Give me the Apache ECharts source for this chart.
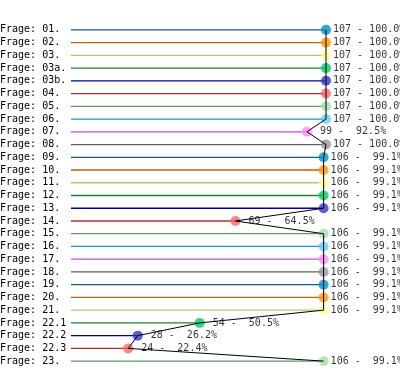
<!DOCTYPE html>
<html><head><meta charset="utf-8">
<script src="https://cdn.jsdelivr.net/npm/echarts@6/dist/echarts.min.js"></script>
<style>html,body{margin:0;padding:0;background:#fff}#c{width:400px;height:373px}</style>
</head><body><div id="c"></div>
<script>
var categories = ["Frage: 01.","Frage: 02.","Frage: 03.","Frage: 03a.","Frage: 03b.","Frage: 04.","Frage: 05.","Frage: 06.","Frage: 07.","Frage: 08.","Frage: 09.","Frage: 10.","Frage: 11.","Frage: 12.","Frage: 13.","Frage: 14.","Frage: 15.","Frage: 16.","Frage: 17.","Frage: 18.","Frage: 19.","Frage: 20.","Frage: 21.","Frage: 22.1","Frage: 22.2","Frage: 22.3","Frage: 23."];
var counts = [107,107,107,107,107,107,107,107,99,107,106,106,106,106,106,69,106,106,106,106,106,106,106,54,28,24,106];
var percents = [100.0,100.0,100.0,100.0,100.0,100.0,100.0,100.0,92.5,100.0,99.1,99.1,99.1,99.1,99.1,64.5,99.1,99.1,99.1,99.1,99.1,99.1,99.1,50.5,26.2,22.4,99.1];
var lineColors = ["#1a5a8a","#c0600a","#c0c070","#208030","#000090","#b03030","#609a60","#2090d0","#c050d0","#606060"];
var dotColors = ["#0090d0","#ff9900","#ffff99","#00cc66","#3333cc","#ff6666","#aaddaa","#66ccff","#ff88ff","#999999"];

function pad(s, n){ s = String(s); while (s.length < n) s = " " + s; return s; }

var font = "DejaVu Sans Mono";
var barData = counts.map(function(v,i){ return {value: v, itemStyle:{color: lineColors[i % 10]}}; });
var dotData = counts.map(function(v,i){ return {value: v, itemStyle:{color: dotColors[i % 10]}}; });

var chart = echarts.init(document.getElementById('c'), null, {renderer:'canvas'});
chart.setOption({
  animation: false,
  grid: {left: 71, right: 74, top: 23.5, height: 344, containLabel: false, outerBoundsMode: 'none'},
  xAxis: {type:'value', min:0, max:107, show:false},
  yAxis: {type:'category', data: categories, inverse: true,
    axisLine:{show:false}, axisTick:{show:false}, splitLine:{show:false},
    axisLabel:{interval:0, align:'left', margin:71, color:'#000', fontFamily:font, fontSize:10}},
  series: [
    {type:'bar', data: barData, barWidth: 1.3, silent: true},
    {type:'scatter', data: dotData, symbol:'circle', symbolSize: 10, z: 3,
      label:{show:true, position:'right', distance:2, color:'#000', fontFamily:font, fontSize:10,
        formatter:function(p){ return pad(counts[p.dataIndex],3) + " - " + pad(percents[p.dataIndex].toFixed(1),5) + "%"; }}},
    {type:'line', data: counts, symbol:'none', z: 4, lineStyle:{color:'#000', width:1}}
  ]
});
</script></body></html>
